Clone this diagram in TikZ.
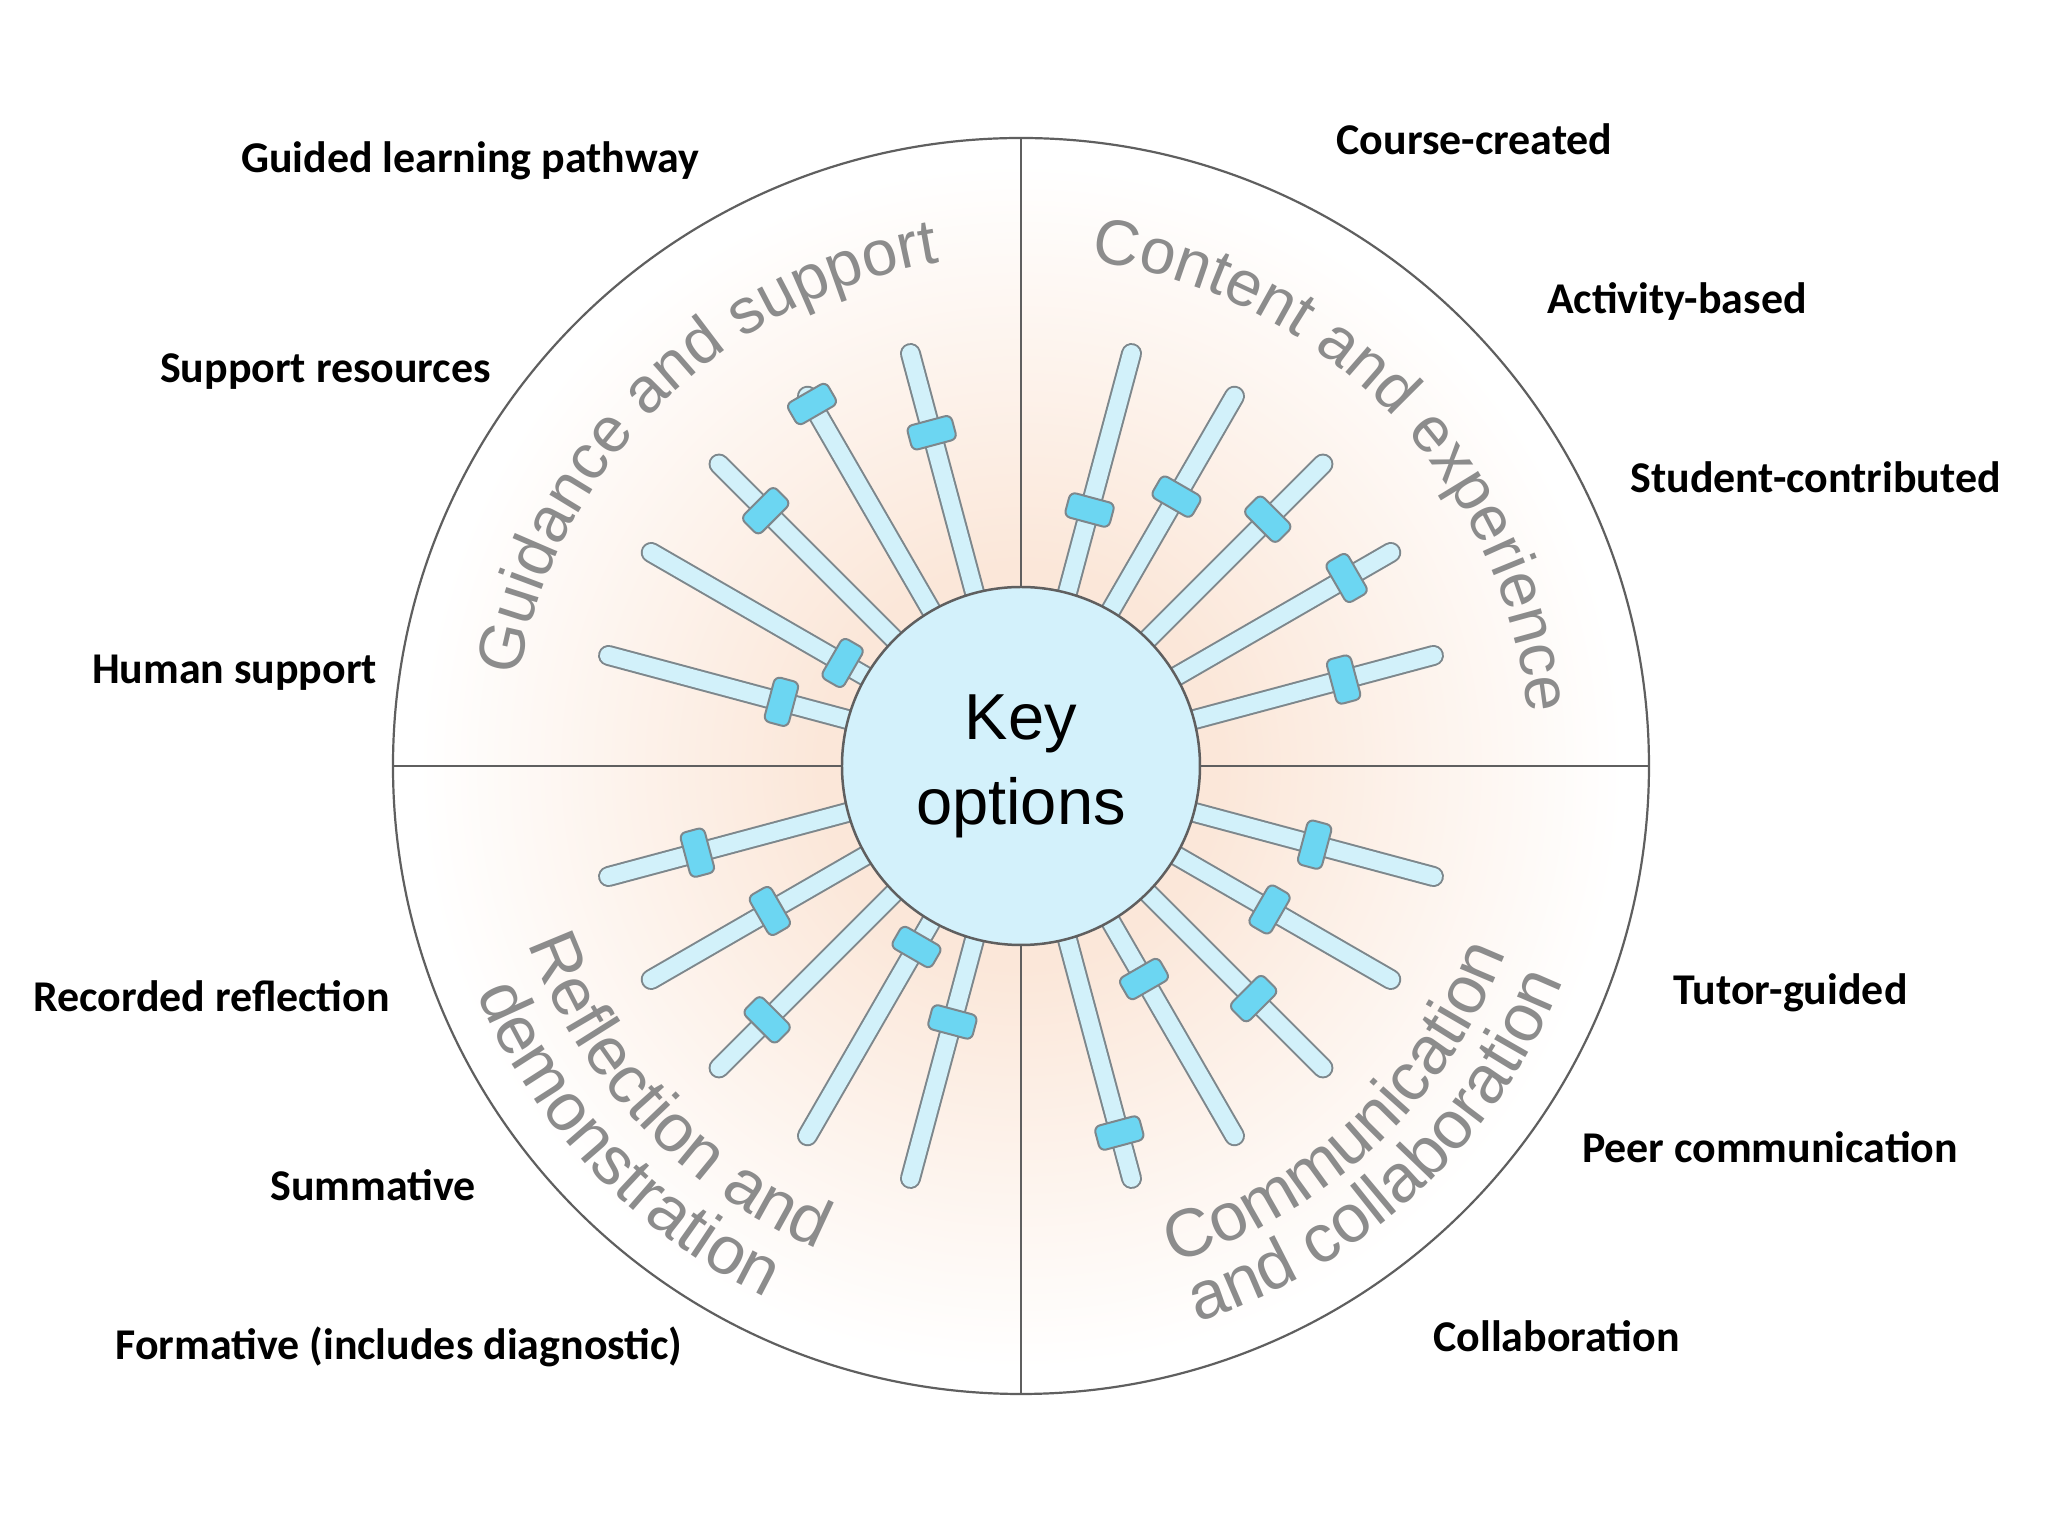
\documentclass[tikz,border=0pt]{standalone}
\usepackage{fontspec}
\usepackage{tikz}
\usetikzlibrary{decorations.text}
\setmainfont{Liberation Sans}
\newfontfamily\labelfont{Carlito}
\newcommand\quadtop{\fontsize{18.2}{20}\selectfont}
\newcommand\quadbot{\fontsize{19.3}{21}\selectfont}
\definecolor{peach}{RGB}{251,231,217}
\definecolor{paleglow}{RGB}{253,243,236}
\definecolor{qgray}{RGB}{140,140,140}
\definecolor{rimgray}{RGB}{95,95,95}
\definecolor{barfill}{RGB}{210,241,250}
\definecolor{barline}{RGB}{125,135,140}
\definecolor{knobfill}{RGB}{108,214,242}
\definecolor{hubfill}{RGB}{211,241,251}
\pgfdeclareradialshading{glow}{\pgfpoint{0cm}{0cm}}{color(0bp)=(peach); color(8bp)=(peach); color(16bp)=(paleglow); color(24bp)=(white); color(50bp)=(white)}

\begin{document}
\begin{tikzpicture}[
    bar/.style={draw=barline, line width=0.02cm, double=barfill, double distance=0.17cm, line cap=round},
    knob/.style={draw=barline, line width=0.02cm, fill=knobfill, rounded corners=0.06cm,
        minimum width=0.25cm, minimum height=0.46cm, inner sep=0pt},
    rim/.style={draw=rimgray, line width=0.022cm},
    option/.style={font=\labelfont\bfseries\fontsize{12.5}{15}\selectfont, text height=0.62em, text depth=0pt, inner sep=0pt}]
    \useasboundingbox (-10.21,-7.70) rectangle (10.27,7.66);

    % wheel and quadrants
    \shade[shading=glow] (0,0) circle (6.28);
    \draw[rim] (0,0) circle (6.28);
    \draw[rim] (90:6.28) -- (270:6.28);
    \draw[rim] (180:6.28) -- (0:6.28);

    % sliders: angle / knob position
    \foreach \a/\k in {105/3.45, 120/4.18, 135/3.61, 150/2.06, 165/2.48,
                       75/2.65, 60/3.11, 45/3.49, 30/3.76, 15/3.34,
                       195/3.35, 210/2.90, 225/3.59, 240/2.09, 255/2.65,
                       345/3.04, 330/2.87, 315/3.29, 300/2.46, 285/3.80} {
        \draw[bar] (\a:1.7) -- (\a:4.27);
        \node[knob, rotate=\a] (knob\a) at (\a:\k) {};
    }

    \node[circle, draw=rimgray, line width=0.025cm, fill=hubfill, minimum size=3.58cm, inner sep=0pt,
          align=center, font=\fontsize{18.5}{24.2}\selectfont] (hub) at (0,0) {Key\\options};

    % curved quadrant titles
    \path[decorate, decoration={text along path, text align=center, text color=qgray,
          text={|\quadtop|Guidance and support}}]
          (174.5:5.10) arc[start angle=174.5, end angle=94.5, radius=5.10];
    \path[decorate, decoration={text along path, text align=center, text color=qgray,
          text={|\quadtop|Content and experience}}]
          (84:5.10) arc[start angle=84, end angle=4, radius=5.10];
    \path[decorate, decoration={text along path, text align=center, text color=qgray,
          text={|\quadbot|Reflection and}}]
          (183.5:5.24) arc[start angle=183.5, end angle=263.5, radius=5.24];
    \path[decorate, decoration={text along path, text align=center, text color=qgray,
          text={|\quadbot|demonstration}}]
          (183.5:5.90) arc[start angle=183.5, end angle=263.5, radius=5.90];
    \path[decorate, decoration={text along path, text align=center, text color=qgray,
          text={|\quadbot|Communication}}]
          (273:5.20) arc[start angle=273, end angle=353, radius=5.20];
    \path[decorate, decoration={text along path, text align=center, text color=qgray,
          text={|\quadbot|and collaboration}}]
          (273:5.83) arc[start angle=273, end angle=353, radius=5.83];

    % options round the wheel
    \node[option] (pathway) at (-5.51,6.04) {Guided learning pathway};
    \node[option] (resources) at (-6.955,3.94) {Support resources};
    \node[option] (human) at (-7.865,0.93) {Human support};
    \node[option] (recorded) at (-8.095,-2.35) {Recorded reflection};
    \node[option] (summative) at (-6.48,-4.24) {Summative};
    \node[option] (formative) at (-6.22,-5.83) {Formative (includes diagnostic)};
    \node[option] (course) at (4.535,6.22) {Course-created};
    \node[option] (activity) at (6.56,4.63) {Activity-based};
    \node[option] (student) at (7.945,2.84) {Student-contributed};
    \node[option] (tutor) at (7.695,-2.28) {Tutor-guided};
    \node[option] (peer) at (7.49,-3.86) {Peer communication};
    \node[option] (collab) at (5.355,-5.75) {Collaboration};
\end{tikzpicture}
\end{document}
